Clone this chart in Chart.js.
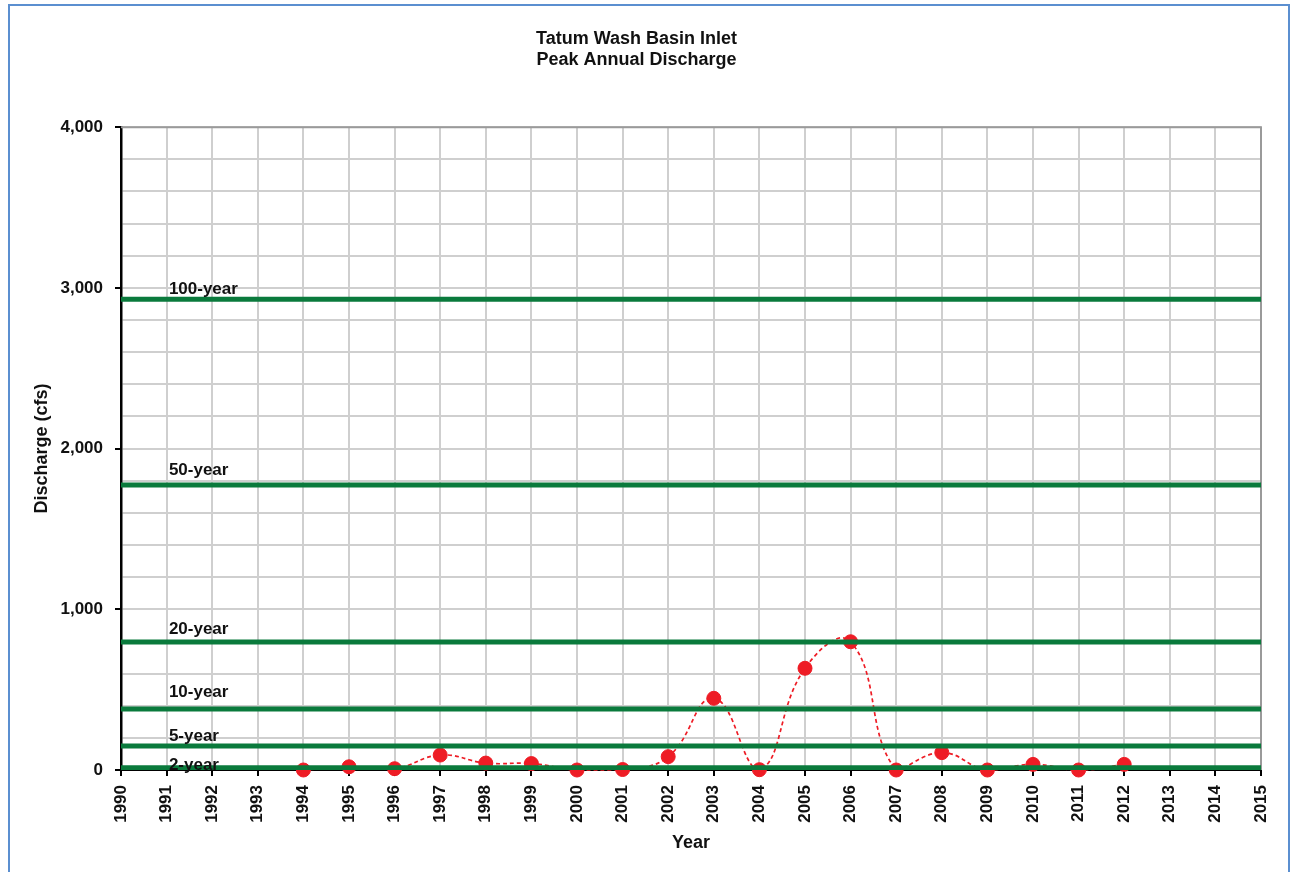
<!DOCTYPE html>
<html>
<head>
<meta charset="utf-8">
<script src="https://cdn.jsdelivr.net/npm/chart.js@4.4.1/dist/chart.umd.min.js"></script>
<style>
  html, body { margin: 0; padding: 0; background: #fff; overflow: hidden; }
  #wrap { position: relative; width: 1291px; height: 872px; }
  #frame { position: absolute; left: 8px; top: 4px; width: 1282px; height: 900px;
           border: 2px solid #5b8fd0; box-sizing: border-box; pointer-events: none; }
  canvas { position: absolute; left: 0; top: 0; }
</style>
</head>
<body>
<div id="wrap">
  <canvas id="c" width="1291" height="872"></canvas>
  <div id="frame"></div>
</div>
<script>
// ---- data ----
const titleLines = ['Tatum Wash Basin Inlet', 'Peak Annual Discharge'];
const years = [1994, 1995, 1996, 1997, 1998, 1999, 2000, 2001, 2002, 2003, 2004, 2005, 2006, 2007, 2008, 2009, 2010, 2011, 2012];
const peakDischarge = [0, 20, 8, 93, 43, 40, 0, 3, 83, 446, 2, 633, 798, 0, 108, 0, 35, 0, 35];
const returnPeriodNames = ['100-year', '50-year', '20-year', '10-year', '5-year', '2-year'];
const returnPeriodValues = [2930, 1773, 796, 379, 149, 14];
const returnLabelValues = [2990, 1866, 877, 483, 207, 31];
const returnLabelYear = 1991.05;
const xMin = 1990, xMax = 2015;
const yMin = 0, yMax = 4000, yStep = 200, yMajor = 1000;

const FONT = "'Liberation Sans', Arial, sans-serif";
const GREEN = '#0a7a3c';
const RED = '#ee1c25';

const datasets = [];
returnPeriodValues.forEach((v, i) => {
  datasets.push({
    label: returnPeriodNames[i],
    data: [{x: xMin, y: v}, {x: xMax, y: v}],
    borderColor: GREEN,
    borderWidth: 5,
    pointRadius: 0,
    fill: false,
    order: 0
  });
});
datasets.push({
  label: 'Peak Annual Discharge',
  data: years.map((yr, i) => ({x: yr, y: peakDischarge[i]})),
  borderColor: RED,
  borderWidth: 1.7,
  borderDash: [4, 3],
  tension: 0.45,
  pointRadius: 7,
  pointBackgroundColor: RED,
  pointBorderColor: RED,
  pointBorderWidth: 1,
  clip: false,
  fill: false,
  order: 1
});

const framePlugin = {
  id: 'frame',
  beforeDatasetsDraw(chart) {
    const {ctx, chartArea: a} = chart;
    ctx.save();
    ctx.strokeStyle = '#9a9a9a';
    ctx.lineWidth = 2;
    ctx.beginPath();
    ctx.moveTo(a.left, a.top);
    ctx.lineTo(a.right, a.top);
    ctx.lineTo(a.right, a.bottom);
    ctx.stroke();
    ctx.restore();
  }
};

const labelPlugin = {
  id: 'rpLabels',
  afterDatasetsDraw(chart) {
    const {ctx} = chart;
    const xs = chart.scales.x, ys = chart.scales.y;
    ctx.save();
    ctx.font = 'bold 17px ' + FONT;
    ctx.fillStyle = '#111';
    ctx.textAlign = 'left';
    ctx.textBaseline = 'middle';
    returnPeriodNames.forEach((n, i) => {
      ctx.fillText(n, xs.getPixelForValue(returnLabelYear), ys.getPixelForValue(returnLabelValues[i]));
    });
    ctx.restore();
  }
};

new Chart(document.getElementById('c'), {
  type: 'line',
  data: { datasets },
  plugins: [framePlugin, labelPlugin],
  options: {
    responsive: false,
    animation: false,
    devicePixelRatio: 1,
    layout: { padding: { left: 12, right: 30, top: 0, bottom: 10 } },
    plugins: {
      legend: { display: false },
      tooltip: { enabled: false },
      title: {
        display: true,
        text: titleLines,
        color: '#111',
        font: { family: FONT, size: 18, weight: 'bold', lineHeight: 1.2 },
        padding: { top: 28, bottom: 56 }
      }
    },
    scales: {
      x: {
        type: 'linear',
        min: xMin, max: xMax,
        afterFit(s) { s.height = 92; },
        ticks: {
          stepSize: 1,
          autoSkip: false,
          minRotation: 90, maxRotation: 90,
          padding: 9,
          color: '#111',
          font: { family: FONT, size: 17, weight: 'bold' },
          callback: v => String(v)
        },
        grid: {
          color: '#cfcfcf',
          lineWidth: 2,
          tickLength: 6,
          tickColor: '#000',
          tickWidth: 2
        },
        border: { color: '#000', width: 2 },
        title: {
          display: true,
          text: 'Year',
          color: '#111',
          font: { family: FONT, size: 18, weight: 'bold', lineHeight: 1.2 },
          padding: { top: 0, bottom: 8 }
        }
      },
      y: {
        min: yMin, max: yMax,
        afterFit(s) { s.width = 109; },
        ticks: {
          stepSize: yStep,
          padding: 12,
          color: '#111',
          font: { family: FONT, size: 17, weight: 'bold' },
          callback: v => (v % yMajor === 0 ? v.toLocaleString('en-US') : '')
        },
        grid: {
          color: '#cfcfcf',
          lineWidth: 2,
          tickLength: 6,
          tickWidth: 2,
          tickColor: c => (c.tick && c.tick.value % yMajor === 0 ? '#000' : 'rgba(0,0,0,0)')
        },
        border: { color: '#000', width: 2.5 },
        title: {
          display: true,
          text: 'Discharge (cfs)',
          color: '#111',
          font: { family: FONT, size: 18, weight: 'bold', lineHeight: 1.2 },
          padding: { top: 19, bottom: 0 }
        }
      }
    }
  }
});
</script>
</body>
</html>
